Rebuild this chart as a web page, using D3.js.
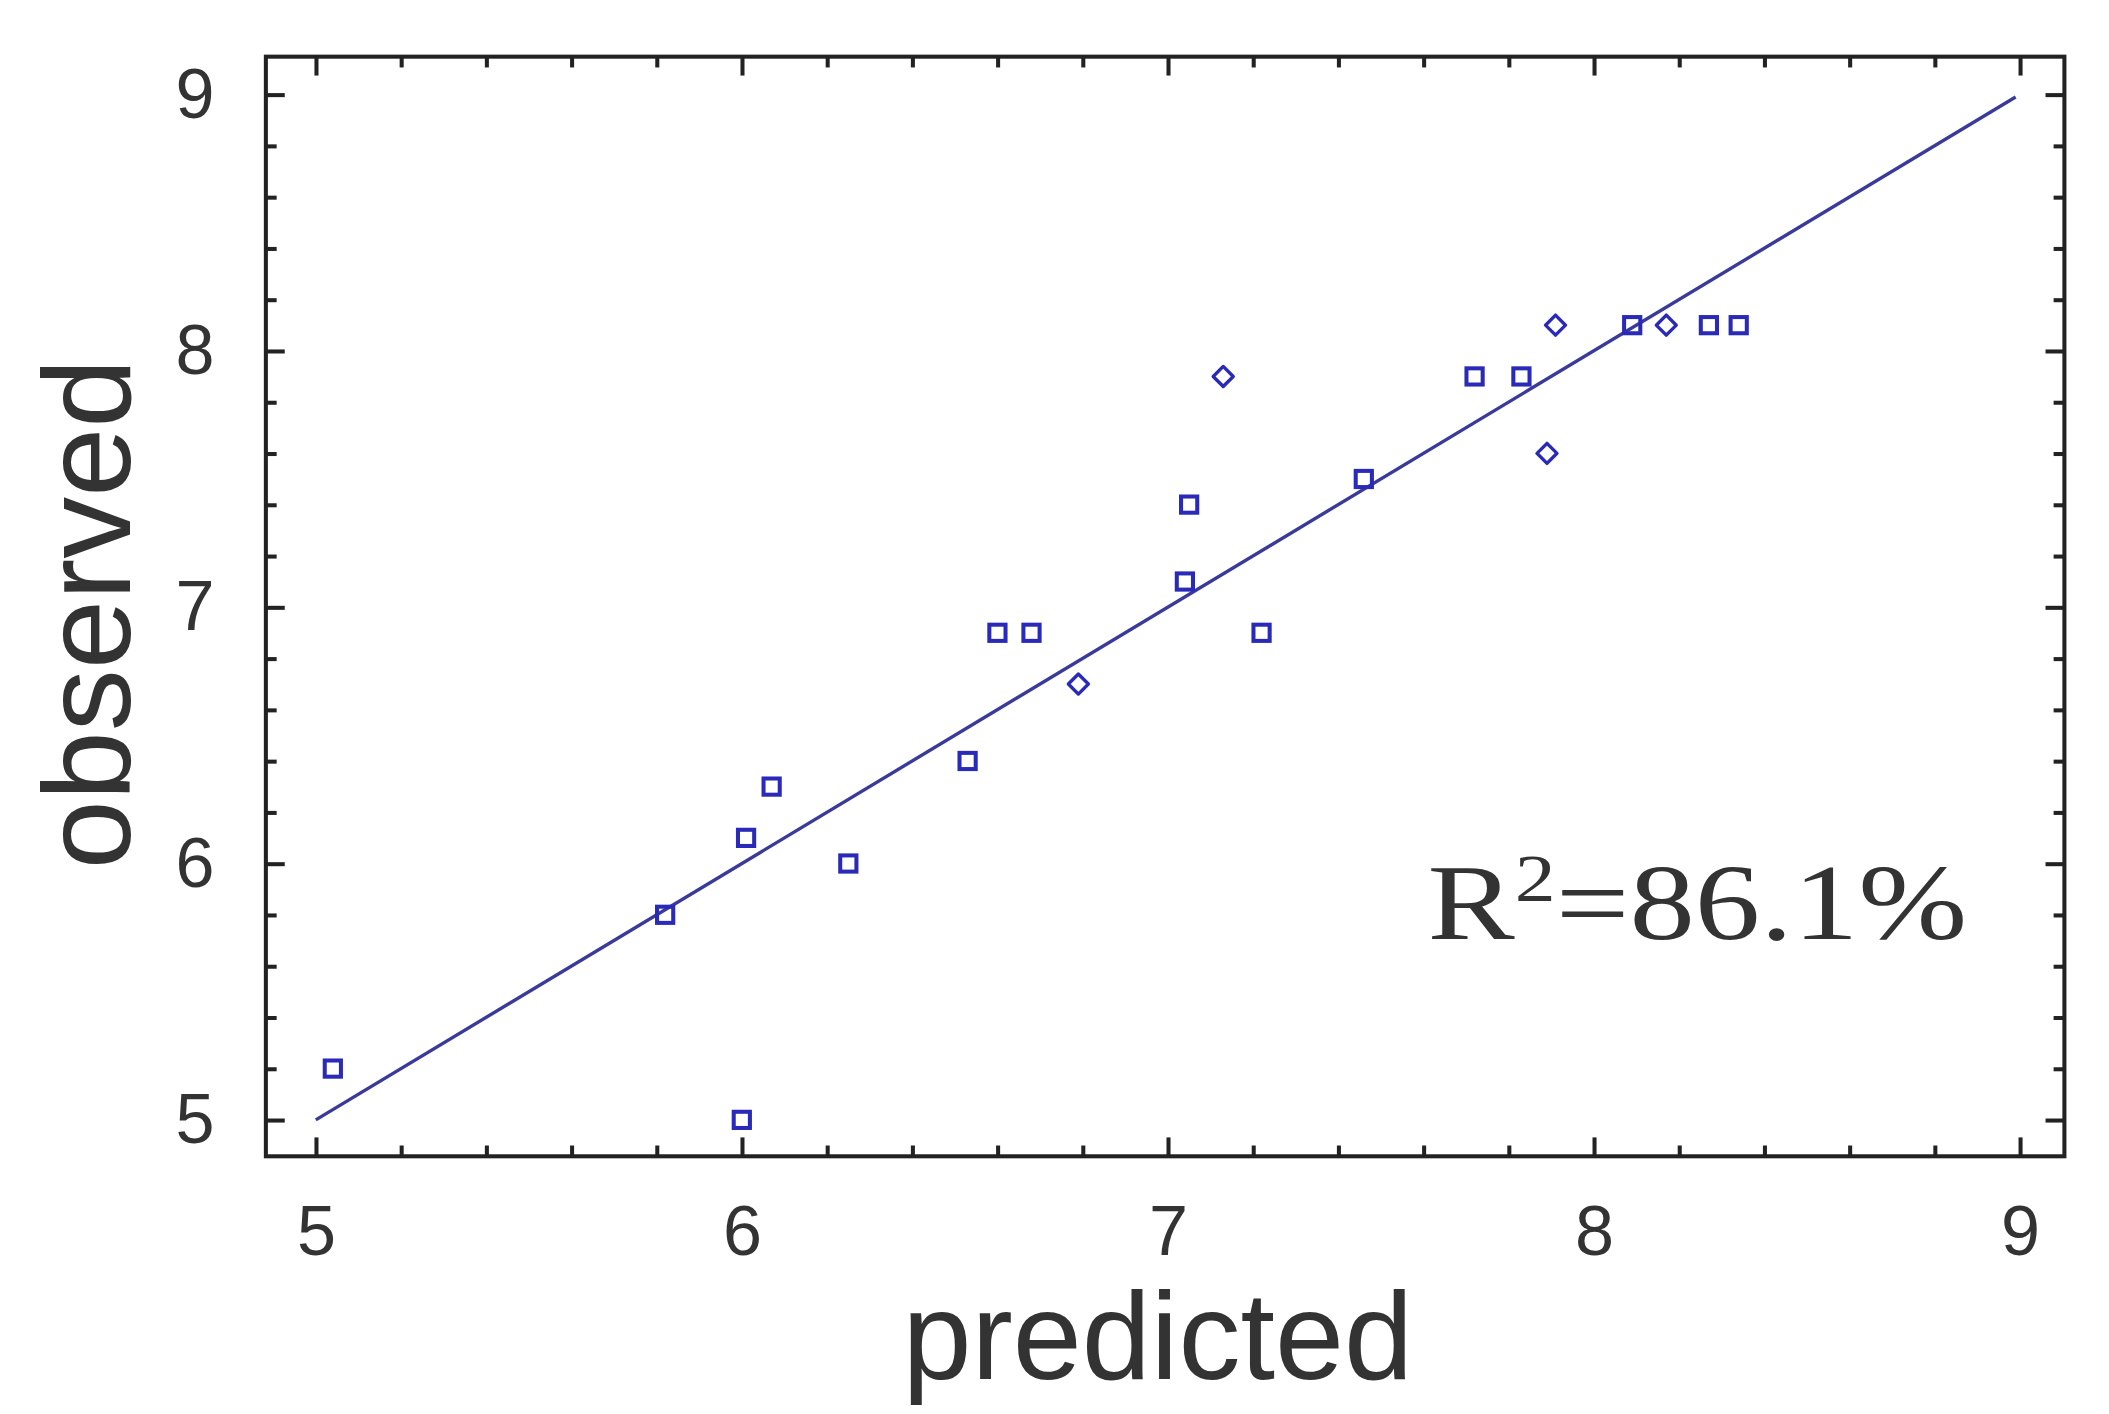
<html lang="en">
<head>
<meta charset="UTF-8">
<title>Observed vs predicted</title>
<script src="https://d3js.org/d3.v7.min.js"></script>
<style>
  body { margin: 0; background: #fff; }
  .axis path { display: none; }
  .axis line { stroke: #222; stroke-width: 3; }
  .axis text { font-family: "Liberation Sans", Arial, sans-serif; font-size: 52px; fill: #333; }
  .title { font-family: "Liberation Sans", Arial, sans-serif; font-size: 92px; fill: #333; }
</style>
</head>
<body>
<div id="chart"></div>
<script>
// predicted / observed pairs
const squaresX = [5.04, 5.82, 6.00, 6.01, 6.07, 6.25, 6.53, 6.60, 6.68, 7.04, 7.05, 7.22, 7.46, 7.72, 7.83, 8.09, 8.27, 8.34];
const squaresY = [5.2, 5.8, 5.0, 6.1, 6.3, 6.0, 6.4, 6.9, 6.9, 7.1, 7.4, 6.9, 7.5, 7.9, 7.9, 8.1, 8.1, 8.1];
const diamondsX = [6.79, 7.13, 7.89, 7.91, 8.17];
const diamondsY = [6.7, 7.9, 7.6, 8.1, 8.1];
const ticks = [5, 6, 7, 8, 9];
const minorTicks = [5.2, 5.4, 5.6, 5.8, 6.2, 6.4, 6.6, 6.8, 7.2, 7.4, 7.6, 7.8, 8.2, 8.4, 8.6, 8.8, 9.2].slice(0, 16);

// drawn in the picture's own units, scaled to the window
const W = 1563, H = 1048;
const frame = { left: 197, right: 1530, top: 42, bottom: 857 };

const svg = d3.select("#chart").append("svg")
  .attr("width", 2109).attr("height", 1414)
  .attr("viewBox", `0 0 ${W} ${H}`);

const x = d3.scaleLinear().domain([5, 9]).range([234, 1497]);
const y = d3.scaleLinear().domain([5, 9]).range([830, 70]);

const xPos = `translate(0,${frame.bottom})`, xTop = `translate(0,${frame.top})`;
const yPos = `translate(${frame.left},0)`, yRight = `translate(${frame.right},0)`;

function axis(gen, transform, values, size, pad) {
  return svg.append("g").attr("class", "axis").attr("transform", transform)
    .call(gen.tickValues(values).tickSize(-size).tickPadding(pad || 0)
      .tickFormat(pad ? d3.format("d") : ""));
}

axis(d3.axisBottom(x), xPos, ticks, 14, 36).selectAll("text").attr("dy", "0.71em");
axis(d3.axisBottom(x), xPos, minorTicks, 8);
axis(d3.axisTop(x), xTop, ticks, 14);
axis(d3.axisTop(x), xTop, minorTicks, 8);

axis(d3.axisLeft(y), yPos, ticks, 14, 38);
axis(d3.axisLeft(y), yPos, minorTicks, 8);
axis(d3.axisRight(y), yRight, ticks, 14);
axis(d3.axisRight(y), yRight, minorTicks, 8);

svg.append("rect")
  .attr("x", frame.left).attr("y", frame.top)
  .attr("width", frame.right - frame.left).attr("height", frame.bottom - frame.top)
  .attr("fill", "none").attr("stroke", "#222").attr("stroke-width", 3);

// y = x reference line
svg.append("line")
  .attr("x1", x(5)).attr("y1", y(5)).attr("x2", x(8.99)).attr("y2", y(8.99))
  .attr("stroke", "#3a3a9a").attr("stroke-width", 2.5);

const blue = "#2a2ab8";
svg.selectAll(".sq").data(squaresX).enter().append("rect")
  .attr("x", d => x(d) - 6).attr("y", (d, i) => y(squaresY[i]) - 6)
  .attr("width", 12).attr("height", 12)
  .attr("fill", "none").attr("stroke", blue).attr("stroke-width", 3);

svg.selectAll(".dm").data(diamondsX).enter().append("path")
  .attr("transform", (d, i) => `translate(${x(d)},${y(diamondsY[i])}) rotate(45)`)
  .attr("d", d3.symbol(d3.symbolSquare, 110))
  .attr("fill", "none").attr("stroke", blue).attr("stroke-width", 2.5)
  .attr("stroke-linejoin", "round");

svg.append("text").attr("class", "title")
  .attr("x", 858).attr("y", 1022).attr("text-anchor", "middle")
  .text("predicted");

svg.append("text").attr("class", "title")
  .attr("transform", "translate(96,455) rotate(-90)").attr("text-anchor", "middle")
  .text("observed");

const r2 = svg.append("text")
  .attr("x", 1058).attr("y", 696)
  .attr("font-family", "Liberation Serif, serif").attr("font-size", 80).attr("fill", "#333")
  .attr("textLength", 400).attr("lengthAdjust", "spacingAndGlyphs");
r2.append("tspan").text("R");
r2.append("tspan").attr("font-size", 50).attr("dy", -28).text("2");
r2.append("tspan").attr("dy", 28).text("=86.1%");
</script>
</body>
</html>
